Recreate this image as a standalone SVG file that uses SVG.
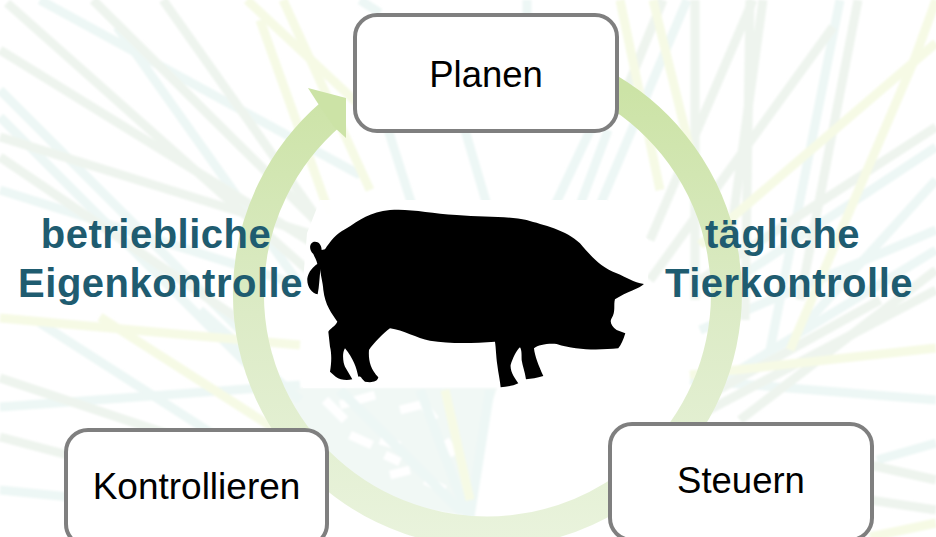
<svg xmlns="http://www.w3.org/2000/svg" width="936" height="537" viewBox="0 0 936 537">
<style>
.b{fill:#fff;stroke:#7f7f7f;stroke-width:4}
.t{font-family:"Liberation Sans",Arial,sans-serif;font-size:36.500px;fill:#000;text-anchor:middle}
.l{font-family:"Liberation Sans",Arial,sans-serif;font-size:40px;font-weight:700;fill:#1f5c70;text-anchor:middle;letter-spacing:.5px}
.g{fill:none;stroke:#eef4ee;stroke-width:9}
.c{fill:none;stroke:#edf7f5;stroke-width:9}
.y{fill:none;stroke:#f6fae5;stroke-width:9}
</style>
<defs>
<linearGradient id="ring" gradientUnits="userSpaceOnUse" x1="0" y1="90" x2="0" y2="537">
<stop offset="0" stop-color="#cce3a6"/><stop offset=".5" stop-color="#dcebc6"/><stop offset="1" stop-color="#e9f3dc"/>
</linearGradient>
<filter id="soft" x="-2%" y="-2%" width="104%" height="104%"><feGaussianBlur stdDeviation="1.2"/></filter>
</defs>
<rect width="936" height="537" fill="#fff"/>
<g id="background" filter="url(#soft)">
<path d="M290 388H497L477 447L470 517L400 505L340 470L290 420L260 350V388Z" fill="#f1f8f5"/>
<g stroke="#fff" stroke-width="9" fill="none">
<path d="M325 400L345 420"/><path d="M350 435L372 445"/><path d="M385 455L400 462"/><path d="M420 400L435 420"/><path d="M380 440L400 446"/><path d="M390 475L410 470"/><path d="M340 405L375 395"/><path d="M400 410L420 405"/><path d="M425 480L445 490"/><path d="M445 440L455 455"/>
</g>
<g class="c">
<path d="M40 0L360 175"/><path d="M0 90L270 360"/><path d="M0 117L250 367"/><path d="M117 27L300 285"/><path d="M0 190L300 285"/>
<path d="M687 0L600 205"/><path d="M840 0L770 350"/><path d="M936 147L720 290"/><path d="M936 180L800 330"/>
<path d="M936 400L690 380"/><path d="M0 407L300 385"/><path d="M0 490L100 500"/><path d="M200 310L300 400"/><path d="M40 323L300 490"/>
<path d="M360 0L380 13"/><path d="M385 120L412 205"/><path d="M462 120L487 205"/><path d="M527 0V15"/>
<path d="M595 120L555 205"/><path d="M608 130L580 205"/>
<path d="M470 517L490 390"/><path d="M468 517L420 390"/><path d="M462 512L340 390"/><path d="M936 230L700 330"/><path d="M877 460L936 443"/>
<path d="M936 250L690 400"/>
</g>
<g class="g">
<path d="M7 3L330 290"/><path d="M0 50L340 260"/><path d="M163 0L340 250"/><path d="M93 0L330 235"/><path d="M0 137L330 240"/><path d="M0 157L240 320"/>
<path d="M695 0V300"/><path d="M763 0L715 350"/><path d="M833 27L650 280"/><path d="M858 0L800 300"/><path d="M936 127L700 280"/><path d="M750 0L745 320"/><path d="M753 0L650 240"/><path d="M663 0L620 105"/>
<path d="M0 378L240 458"/><path d="M0 437L200 490"/>
<path d="M936 290L690 420"/><path d="M880 300L700 400"/><path d="M936 270L740 420"/><path d="M870 465L936 480"/><path d="M870 500L936 510"/>
</g>
<g class="y">
<path d="M247 0L370 115"/><path d="M283 0L370 190"/><path d="M260 20L330 215"/>
<path d="M620 0L660 190"/><path d="M653 0L700 190"/><path d="M936 43L700 245"/><path d="M913 63L790 350"/><path d="M936 0L913 63"/>
<path d="M936 348L690 375"/><path d="M0 318L300 345"/><path d="M100 317L300 445"/>
<path d="M870 537L936 523"/><path d="M470 500L445 390"/>
</g>
</g>
<path d="M320 200L607 200L648 240V386H620L303 388L302 293L307 233Z" fill="#fff" opacity=".96"/>
<g id="connectors">
<path d="M600 84A239 238 0 1 1 331 114" fill="none" stroke="url(#ring)" stroke-width="31"/>
<path d="M308 88L346 98V138L334 127L317 102Z" fill="#cce3a6"/>
</g>
<g id="pig">
<path transform="translate(290 190) scale(.3333)" fill="#000" d="M95 180L105 178C120 155 140 130 165 118C210 90 240 65 300 60C360 55 420 70 500 75C580 82 660 78 710 90C760 105 830 120 870 160C905 200 930 230 980 250C1010 262 1030 278 1062 282C1050 295 1010 305 975 328C970 345 978 365 965 385C958 395 965 410 980 420L1006 430C1000 450 993 465 985 475C930 480 860 482 800 462C770 460 745 465 732 475C735 500 745 525 760 558C740 565 725 565 708 568C705 545 698 530 695 510C695 490 695 480 690 472C680 480 668 505 662 525C660 545 675 565 685 580C670 588 650 590 632 592C630 570 625 550 622 525C618 495 618 475 615 455C550 460 480 462 420 452C380 445 340 420 300 415C280 430 250 460 237 480C235 510 240 535 265 562C262 578 240 578 225 575C212 565 215 558 205 560C200 535 190 505 165 475C155 490 160 520 165 530L187 568C170 572 150 570 137 560L120 545C125 515 125 490 120 470L115 425C120 415 135 410 142 395C125 370 105 345 100 300C98 270 90 255 92 235C88 262 88 290 83 313C65 310 50 290 52 265C55 245 70 230 82 222C80 210 74 202 70 192C55 180 58 155 75 155C90 155 95 170 95 180Z"/>
</g>
<g id="node-planen"><rect class="b" x="355" y="15" width="262" height="116" rx="22"/><text class="t" x="486" y="87">Planen</text></g>
<g id="node-kontrollieren"><rect class="b" x="66" y="430" width="261" height="116" rx="22"/><text class="t" x="196.500" y="499" style="font-size:37px">Kontrollieren</text></g>
<g id="node-steuern"><rect class="b" x="610" y="424" width="262" height="116" rx="22"/><text class="t" x="741" y="493">Steuern</text></g>
<g id="label-left"><text class="l" x="156" y="248">betriebliche</text><text class="l" x="160.500" y="297">Eigenkontrolle</text></g>
<g id="label-right"><text class="l" x="782.500" y="248">tägliche</text><text class="l" x="789" y="297">Tierkontrolle</text></g>
</svg>
